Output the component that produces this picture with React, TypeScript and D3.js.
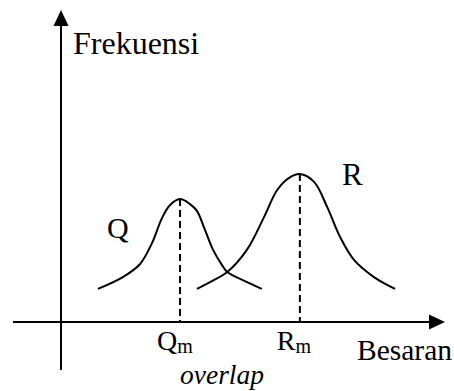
import React from "react";
import * as d3 from "d3";

// Distribution Q: measured quantity (besaran) vs. frequency (frekuensi)
const qBesaran = [9.6, 16.1, 20.6, 23.7, 26.3, 28.4, 31.0, 33.6, 35.4, 37.5, 39.6, 41.9, 43.3, 47.9, 52.3];
const qFrekuensi = [10.6, 14.4, 18.6, 25.3, 33.3, 37.5, 39.4, 37.8, 35.6, 29.5, 23.1, 18.3, 16.0, 13.1, 10.6];

// Distribution R
const rBesaran = [35.4, 39.3, 43.3, 48.4, 52.9, 56.3, 59.4, 62.2, 65.9, 69.3, 72.7, 76.3, 81.5, 87.0];
const rFrekuensi = [10.6, 13.1, 16.0, 23.1, 33.7, 42.3, 46.2, 47.4, 44.9, 36.9, 27.2, 19.9, 14.4, 10.6];

const seriesNames = ["Q", "R"];
const modeLabels = ["Q", "R"];
const modeSub = "m";
const yTitle = "Frekuensi";
const xTitle = "Besaran";
const noteText = "overlap";

const W = 454;
const H = 391;
const FONT = "'Liberation Serif', 'Times New Roman', serif";

export default function App() {
  const x = d3.scaleLinear().domain([0, 100]).range([61, 445]);
  const y = d3.scaleLinear().domain([0, 100]).range([322, 10]);

  const line = d3
    .line<[number, number]>()
    .x((d) => x(d[0]))
    .y((d) => y(d[1]))
    .curve(d3.curveCatmullRom.alpha(0.5));

  const series = [
    { name: seriesNames[0], pts: qBesaran.map((b, i) => [b, qFrekuensi[i]] as [number, number]) },
    { name: seriesNames[1], pts: rBesaran.map((b, i) => [b, rFrekuensi[i]] as [number, number]) },
  ];

  const peaks = series.map((s) => s.pts.reduce((a, b) => (b[1] > a[1] ? b : a)));

  const x0 = x(0);
  const y0 = y(0);
  const axisLeft = x(-12.5);
  const yBottom = y(-15.4);

  return (
    <svg
      width={W}
      height={H}
      style={{ position: "absolute", left: 0, top: 0, background: "#fff" }}
      fontFamily={FONT}
    >
      {/* axes */}
      <line x1={x0} x2={x0} y1={yBottom} y2={y(100) + 12} stroke="#000" strokeWidth={2} />
      <path
        d={`M${x0},${y(100)} L${x0 - 7.5},${y(100) + 16} L${x0 + 7.5},${y(100) + 16} Z`}
        fill="#000"
      />
      <line x1={axisLeft} x2={x(100) - 12} y1={y0} y2={y0} stroke="#000" strokeWidth={2} />
      <path
        d={`M${x(100)},${y0} L${x(100) - 16},${y0 - 7.5} L${x(100) - 16},${y0 + 7.5} Z`}
        fill="#000"
      />

      {/* mode markers */}
      {peaks.map((p, i) => (
        <line
          key={`m${i}`}
          x1={x(p[0])}
          x2={x(p[0])}
          y1={y(p[1])}
          y2={y0}
          stroke="#000"
          strokeWidth={2}
          strokeDasharray="7,4"
        />
      ))}

      {/* curves */}
      {series.map((s) => (
        <path key={s.name} d={line(s.pts) ?? ""} fill="none" stroke="#000" strokeWidth={2} />
      ))}

      {/* titles */}
      <text x={73} y={54} fontSize={32} fill="#000">
        {yTitle}
      </text>
      <text x={357} y={360} fontSize={29.5} fill="#000">
        {xTitle}
      </text>

      {/* series names */}
      <text x={107} y={238} fontSize={30} fill="#000">
        {seriesNames[0]}
      </text>
      <text x={342} y={185} fontSize={31} fill="#000">
        {seriesNames[1]}
      </text>

      {/* mode labels */}
      {peaks.map((p, i) => (
        <text key={`l${i}`} x={x(p[0]) - 23} y={350} fontSize={28} fill="#000">
          {modeLabels[i]}
          <tspan fontSize={20} dy={3}>
            {modeSub}
          </tspan>
        </text>
      ))}

      <text x={180} y={384} fontSize={27.5} fontStyle="italic" fill="#000">
        {noteText}
      </text>
    </svg>
  );
}
